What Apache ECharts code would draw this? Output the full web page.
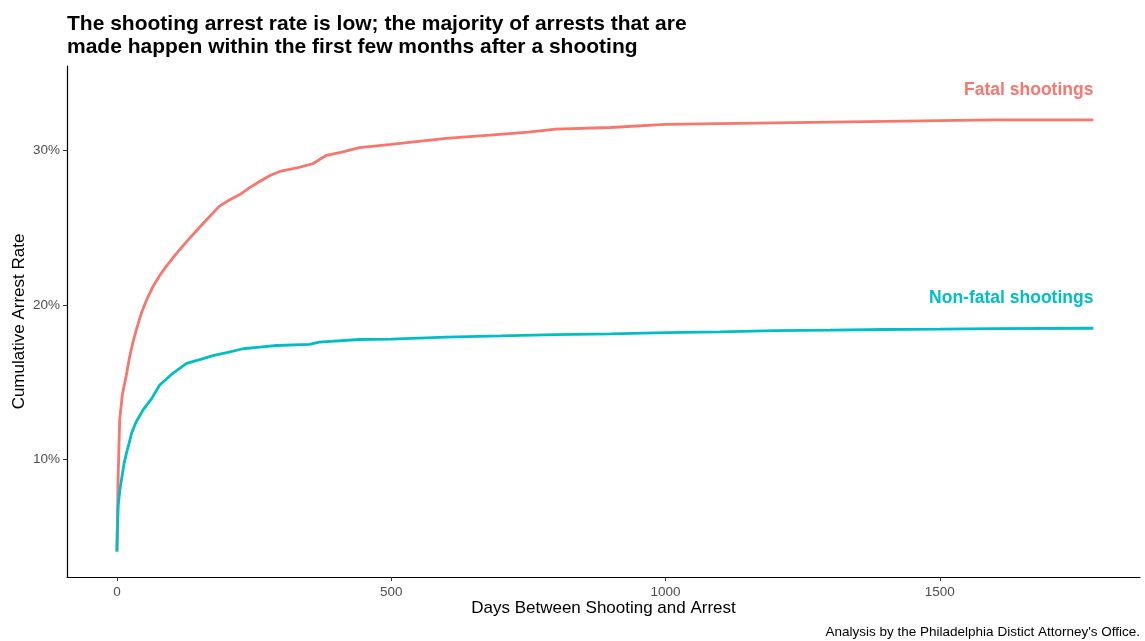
<!DOCTYPE html>
<html><head><meta charset="utf-8">
<script src="https://cdn.jsdelivr.net/npm/echarts@6/dist/echarts.min.js"></script>
<style>html,body{margin:0;padding:0;background:#fff}#c{width:1145px;height:641px}</style>
</head><body><div id="c"></div>
<script>
const fatalDays = [0, 2, 5, 10, 17, 23, 30, 38, 45, 55, 66, 78, 90, 108, 127, 145, 163, 187, 205, 224, 242, 260, 280, 297, 330, 357, 382, 410, 442, 500, 550, 600, 680, 750, 800, 900, 1000, 1100, 1200, 1300, 1400, 1500, 1600, 1780];
const fatalRate = [4.0, 8.5, 12.5, 14.2, 15.4, 16.6, 17.7, 18.7, 19.5, 20.4, 21.2, 21.9, 22.5, 23.3, 24.1, 24.8, 25.5, 26.4, 26.8, 27.15, 27.6, 28.0, 28.4, 28.65, 28.9, 29.15, 29.7, 29.9, 30.2, 30.4, 30.6, 30.8, 31.0, 31.2, 31.4, 31.5, 31.7, 31.75, 31.8, 31.85, 31.9, 31.95, 32.0, 32.0];
const nonFatalDays = [0, 1, 2.5, 5, 8.5, 13, 17.5, 22, 27, 35, 48, 63, 78, 100, 127, 151, 175, 200, 230, 260, 291, 351, 369, 442, 500, 600, 700, 800, 900, 1000, 1100, 1200, 1300, 1400, 1500, 1600, 1780];
const nonFatalRate = [4.0, 5.6, 7.0, 7.9, 8.7, 9.7, 10.4, 11.0, 11.7, 12.4, 13.2, 13.9, 14.8, 15.5, 16.2, 16.45, 16.7, 16.9, 17.15, 17.25, 17.36, 17.43, 17.58, 17.75, 17.78, 17.9, 17.98, 18.07, 18.12, 18.2, 18.25, 18.33, 18.36, 18.4, 18.42, 18.45, 18.48];
const xTicks = [0, 500, 1000, 1500];
const yTicks = [10, 20, 30];
const fatalName = 'Fatal shootings';
const nonFatalName = 'Non-fatal shootings';

const zip = (a, b) => a.map((v, i) => [v, b[i]]);
const FONT = '"Liberation Sans", Arial, Helvetica, sans-serif';
const chart = echarts.init(document.getElementById('c'), null, {renderer: 'canvas'});

function endMark(days, rate, name, color) {
  const last = days.length - 1;
  return {
    symbol: 'circle', symbolSize: 0, silent: true,
    data: [{coord: [days[last], rate[last]]}],
    label: {
      show: true, formatter: name, position: 'top', align: 'right', distance: 21,
      color: color, fontSize: 17.5, fontWeight: 'bold', fontFamily: FONT
    }
  };
}

chart.setOption({
  animation: false,
  backgroundColor: '#fff',
  title: {
    text: 'The shooting arrest rate is low; the majority of arrests that are\nmade happen within the first few months after a shooting',
    left: 62, top: 8,
    textStyle: {fontSize: 21, fontWeight: 'bold', color: '#000', fontFamily: FONT, lineHeight: 23}
  },
  graphic: [{
    type: 'text', right: 5, bottom: 2,
    style: {text: "Analysis by the Philadelphia Distict Attorney's Office.", fontSize: 13.5, fill: '#000', fontFamily: FONT}
  }],
  grid: {left: 67, right: 5, top: 66, bottom: 64, containLabel: false, outerBoundsMode: 'none'},
  xAxis: {
    type: 'value', min: -91, max: 1865,
    name: 'Days Between Shooting and Arrest', nameLocation: 'middle', nameGap: 23, nameMoveOverlap: false,
    nameTextStyle: {fontSize: 17, color: '#000', fontFamily: FONT},
    axisLine: {show: true, onZero: false, lineStyle: {color: '#000', width: 1.2}},
    axisTick: {show: true, customValues: xTicks, length: 4, lineStyle: {color: '#333'}},
    axisLabel: {customValues: xTicks, formatter: v => String(v), color: '#4d4d4d', fontSize: 13.5, margin: 8, fontFamily: FONT},
    splitLine: {show: false}
  },
  yAxis: {
    type: 'value', min: 2.345, max: 35.49,
    name: 'Cumulative Arrest Rate', nameLocation: 'middle', nameGap: 39, nameMoveOverlap: false,
    nameTextStyle: {fontSize: 17, color: '#000', fontFamily: FONT},
    axisLine: {show: true, onZero: false, lineStyle: {color: '#000', width: 1.2}},
    axisTick: {show: true, customValues: yTicks, length: 4, lineStyle: {color: '#333'}},
    axisLabel: {customValues: yTicks, formatter: v => Math.round(v) + '%', color: '#4d4d4d', fontSize: 13.5, margin: 7, fontFamily: FONT},
    splitLine: {show: false}
  },
  series: [
    {
      name: fatalName, type: 'line', data: zip(fatalDays, fatalRate), showSymbol: false, smooth: false,
      lineStyle: {color: '#F8766D', width: 2.8}, itemStyle: {color: '#F8766D'},
      markPoint: endMark(fatalDays, fatalRate, fatalName, '#F8766D')
    },
    {
      name: nonFatalName, type: 'line', data: zip(nonFatalDays, nonFatalRate), showSymbol: false, smooth: false,
      lineStyle: {color: '#00BFC4', width: 2.8}, itemStyle: {color: '#00BFC4'},
      markPoint: endMark(nonFatalDays, nonFatalRate, nonFatalName, '#00BFC4')
    }
  ]
});
</script></body></html>
